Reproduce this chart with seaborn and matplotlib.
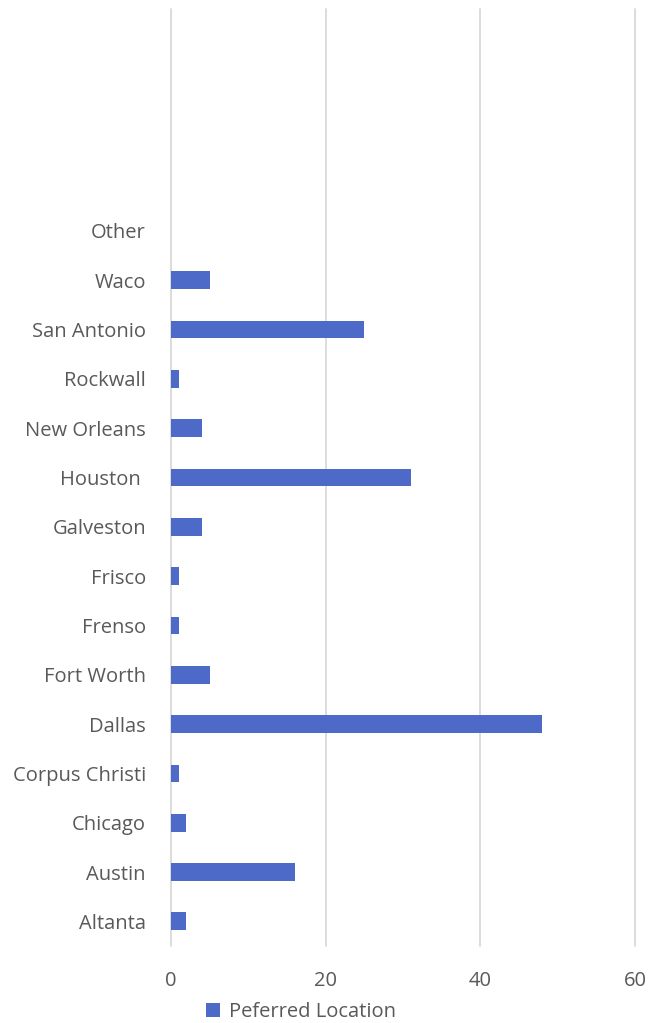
import matplotlib
matplotlib.use("Agg")
import matplotlib.pyplot as plt
import seaborn as sns
import pandas as pd

categories = ["Other", "Waco", "San Antonio", "Rockwall", "New Orleans", "Houston ",
              "Galveston", "Frisco", "Frenso", "Fort Worth", "Dallas", "Corpus Christi",
              "Chicago", "Austin", "Altanta"]
values = [0, 5, 25, 1, 4, 31, 4, 1, 1, 5, 48, 1, 2, 16, 2]
series_name = "Peferred Location"
x_ticks = [0, 20, 40, 60]

df = pd.DataFrame({"city": categories, "count": values, "series": series_name})

sns.set_theme(style="white")
plt.rcParams["font.family"] = ["Open Sans", "DejaVu Sans"]

fig = plt.figure(figsize=(6.65, 10.23), dpi=100)
ax = fig.add_axes([171/665, 1-946/1023, (635-171)/665, (946-9)/1023])

bar_color = "#4E6AC9"
sns.barplot(data=df, y="city", x="count", hue="series", order=categories,
            palette=[bar_color], orient="h", width=0.36, dodge=False, ax=ax,
            legend=True, saturation=1, linewidth=0)

ax.set_xlim(0, 60)
ax.set_ylim(14.5, -4.5)
ax.set_xticks(x_ticks)
ax.set_xlabel("")
ax.set_ylabel("")
ax.grid(axis="x", color="#D9D9D9", linewidth=1.3)
for gl in ax.get_xgridlines():
    gl.set_clip_on(False)
ax.set_axisbelow(True)
for s in ax.spines.values():
    s.set_visible(False)
ax.tick_params(axis="both", length=0, labelsize=14.5, colors="#595959")
ax.tick_params(axis="y", pad=18)
ax.tick_params(axis="x", pad=18)

leg = ax.get_legend()
handles, labels = ax.get_legend_handles_labels()
if leg is not None:
    leg.remove()
fig.legend(handles, labels, loc="center", bbox_to_anchor=(301/665, 1-1012/1023),
           frameon=False, fontsize=14.5, labelcolor="#595959", handlelength=0.65,
           handleheight=0.65, handletextpad=0.45)

fig.savefig("out.png", dpi=100)
